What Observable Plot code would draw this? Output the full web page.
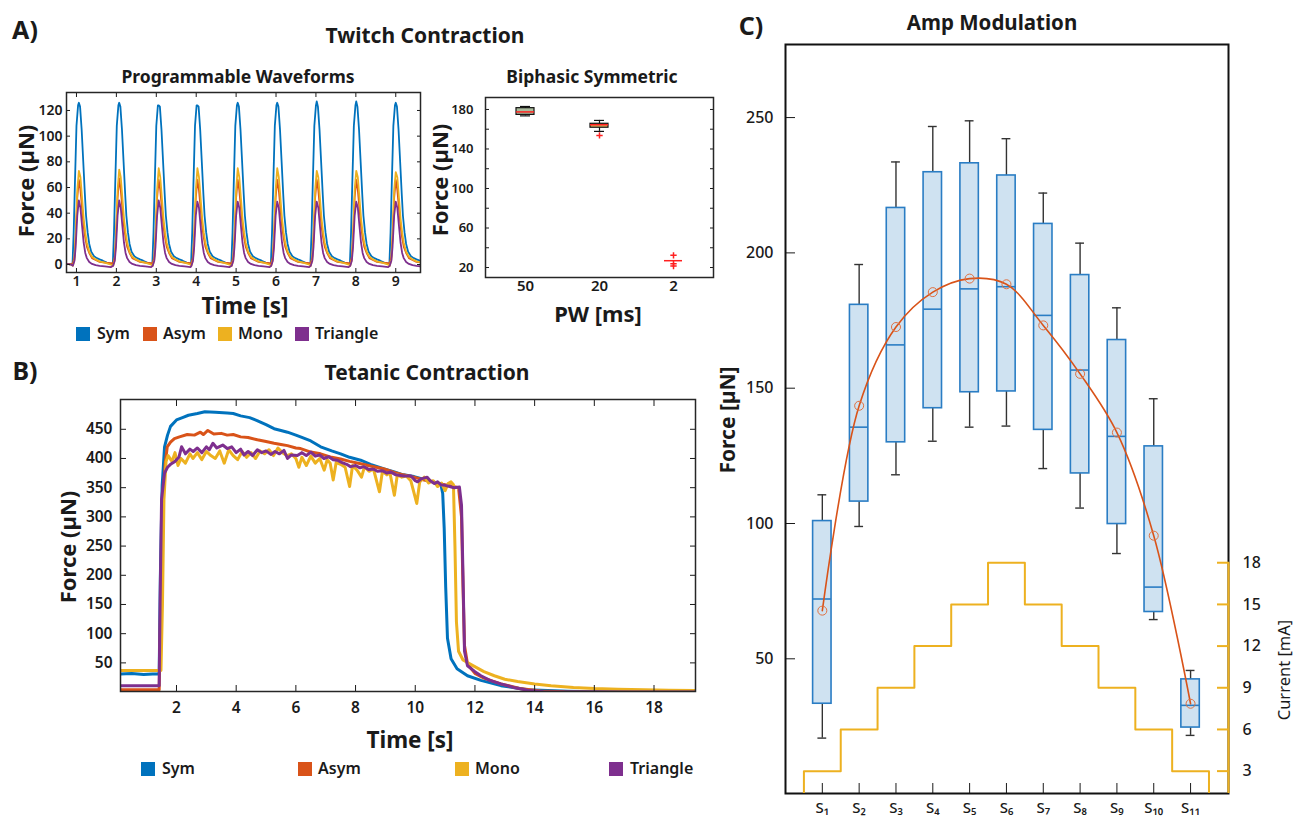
<!DOCTYPE html>
<html><head><meta charset="utf-8">
<script src="https://cdn.jsdelivr.net/npm/d3@7"></script>
<script src="https://cdn.jsdelivr.net/npm/@observablehq/plot@0.6"></script>
<style>
body{margin:0;background:#fff;font-family:"Noto Sans",sans-serif;color:#1a1a1a;}
#root{position:relative;width:1295px;height:821px;overflow:hidden;background:#fff;}
.abs{position:absolute;white-space:nowrap;line-height:1;}
.sq{position:absolute;width:14px;height:14px;}
</style></head><body><div id="root"></div>
<script>
// ================= DATA =================
const seriesNames = ["Sym", "Asym", "Mono", "Triangle"];
const seriesColors = ["#0072BD", "#D95319", "#EDB120", "#7E2F8E"];

// ---- Panel A (left): twitch contractions ----
const twitchXTicks = [1, 2, 3, 4, 5, 6, 7, 8, 9];
const twitchYTicks = [0, 20, 40, 60, 80, 100, 120];
const twitchPeakTimes = [1.06, 2.07, 3.06, 4.03, 5.04, 6.03, 7.02, 8.01, 9.0];
const symPeaks = [126, 126, 124, 124, 126, 126, 127, 127, 126];
const asymPeaks = [66, 67, 66, 66, 66, 66, 66, 66, 66];
const monoPeaks = [73, 74, 75, 75, 75, 75, 73, 73, 72];
const triPeaks = [50, 50, 50, 49, 49, 49, 49, 49, 49];
// one twitch: [seconds from peak, force]; null = that twitch's peak
const symProfile = [[-0.16,0],[-0.13,25],[-0.10,62],[-0.06,108],[-0.02,124],[0,null],[0.03,123],[0.07,105],[0.11,80],[0.15,55],[0.18,38],[0.22,25],[0.26,16],[0.31,10],[0.38,6.5],[0.45,5],[0.52,4],[0.6,3],[0.7,1.5],[0.8,0.5]];
const asymProfile = [[-0.15,1],[-0.11,6],[-0.08,22],[-0.04,52],[0,null],[0.04,58],[0.08,44],[0.12,30],[0.16,21],[0.2,14],[0.26,9],[0.33,5],[0.42,3.5],[0.52,2],[0.65,1.5],[0.8,1]];
const monoProfile = [[-0.15,-1],[-0.11,4],[-0.08,22],[-0.04,58],[0,null],[0.04,68],[0.08,52],[0.12,36],[0.16,25],[0.2,17],[0.26,10],[0.33,6],[0.42,4],[0.52,2.5],[0.65,1.5],[0.8,0]];
const triProfile = [[-0.15,-1],[-0.11,3],[-0.08,14],[-0.04,38],[0,null],[0.04,44],[0.08,30],[0.12,17],[0.16,9],[0.2,5],[0.26,2],[0.33,0.5],[0.42,-0.5],[0.52,-1],[0.65,-1.5],[0.8,-2]];
const twitchLead = [[0.75, 0.5], [0.85, 0.2]];

// ---- Panel A (right): biphasic symmetric box plot ----
const pwCats = ["50", "20", "2"];
const pwYTicks = [20, 40, 60, 80, 100, 120, 140, 160, 180];
const pwLow = [173.5, 157.8, 26.9];
const pwQ1 = [174.5, 161.5, 26.9];
const pwMed = [177.5, 164.5, 26.9];
const pwQ3 = [181.3, 165.5, 26.9];
const pwHigh = [183.0, 168.9, 26.9];
const pwOutCat = ["20", "2", "2", "2"];
const pwOutVal = [153.7, 32.3, 23.8, 21.5];

// ---- Panel B: tetanic contraction ----
const tetXTicks = [2, 4, 6, 8, 10, 12, 14, 16, 18];
const tetYTicks = [50, 100, 150, 200, 250, 300, 350, 400, 450];
const tetSym = [[0.12,31],[0.5,32],[0.9,30],[1.2,31],[1.42,31],[1.46,200],[1.52,354],[1.6,420],[1.7,440],[1.8,455],[2.0,466],[2.2,470],[2.4,474],[2.7,477],[2.95,480],[3.3,479],[3.7,478],[3.9,477],[4.15,473],[4.45,470],[4.7,465],[5.0,458],[5.27,451],[5.5,448],[5.72,445],[6.0,440],[6.2,436],[6.5,430],[6.83,420],[7.2,413],[7.5,408],[7.8,402],[8.17,397],[8.5,390],[8.96,382],[9.3,377],[9.6,372],[9.96,369],[10.3,364],[10.6,360],[10.86,355],[10.92,340],[10.97,280],[11.02,180],[11.08,92],[11.2,57],[11.4,40],[11.75,28],[12.2,20],[12.87,11],[13.77,4],[15.1,1.5],[16,0.5],[19.4,0]];
const tetAsym = [[0.12,4],[1.42,4],[1.47,150],[1.55,330],[1.62,390],[1.69,420],[1.8,428],[1.93,434],[2.1,437],[2.36,441],[2.6,440],[2.8,445],[2.9,441],[3.05,448],[3.25,442],[3.5,443],[3.7,440],[3.9,441],[4.15,437],[4.4,436],[4.71,432],[5.0,429],[5.27,426],[5.5,424],[5.72,422],[6.0,418],[6.16,417],[6.5,411],[6.83,408],[7.2,402],[7.5,399],[7.8,395],[8.17,391],[8.5,387],[8.96,382],[9.3,376],[9.6,372],[9.96,368],[10.3,363],[10.6,360],[10.9,356],[11.2,353],[11.45,350],[11.55,300],[11.6,180],[11.65,80],[11.75,48],[12.0,32],[12.3,24],[12.87,14],[13.5,6],[14.2,2],[15,0.5],[19.4,0]];
const tetMono = [[0.12,37],[1.48,37],[1.53,150],[1.58,330],[1.65,395],[1.72,405],[1.85,395],[1.95,410],[2.05,388],[2.15,400],[2.3,392],[2.45,408],[2.55,400],[2.7,410],[2.85,398],[3.0,412],[3.15,405],[3.3,400],[3.45,413],[3.6,392],[3.75,415],[3.9,405],[4.05,398],[4.2,412],[4.35,402],[4.5,410],[4.65,400],[4.8,413],[4.95,408],[5.1,415],[5.25,405],[5.4,418],[5.55,410],[5.7,405],[5.85,408],[6.0,400],[6.1,385],[6.2,402],[6.35,388],[6.5,404],[6.65,392],[6.8,400],[6.95,380],[7.05,398],[7.15,392],[7.25,363],[7.35,393],[7.5,390],[7.65,385],[7.8,352],[7.9,388],[8.05,380],[8.2,368],[8.3,386],[8.45,378],[8.6,382],[8.8,343],[8.9,378],[9.05,372],[9.15,376],[9.3,337],[9.4,372],[9.55,368],[9.7,370],[9.85,362],[10.05,323],[10.15,360],[10.3,368],[10.45,358],[10.6,362],[10.75,352],[10.88,358],[11.0,345],[11.1,357],[11.2,360],[11.28,355],[11.33,250],[11.38,120],[11.45,70],[11.6,55],[11.98,44],[12.3,35],[12.65,28],[13.0,22],[13.43,18],[14.0,14],[14.55,11],[15.3,8],[16.0,6],[16.8,5],[17.67,4],[18.5,3],[19.4,2.5]];
const tetTri = [[0.12,11],[1.42,11],[1.45,150],[1.5,330],[1.6,375],[1.7,385],[1.8,390],[1.95,395],[2.08,402],[2.17,420],[2.3,408],[2.45,416],[2.56,412],[2.7,418],[2.85,410],[3.0,420],[3.1,415],[3.22,426],[3.35,418],[3.55,423],[3.7,417],[3.85,420],[4.0,410],[4.15,416],[4.26,406],[4.4,412],[4.55,405],[4.71,415],[4.85,410],[5.0,413],[5.16,407],[5.3,412],[5.45,408],[5.6,414],[5.72,400],[5.85,406],[6.05,405],[6.2,410],[6.35,405],[6.5,411],[6.65,404],[6.8,406],[6.94,400],[7.1,403],[7.25,398],[7.39,397],[7.55,393],[7.7,390],[7.83,386],[8.0,388],[8.15,384],[8.28,386],[8.45,381],[8.6,382],[8.73,378],[8.9,379],[9.05,375],[9.17,377],[9.35,372],[9.6,370],[9.86,370],[10.0,362],[10.08,360],[10.2,365],[10.4,368],[10.5,362],[10.64,357],[10.75,360],[10.86,355],[11.0,354],[11.15,352],[11.3,350],[11.48,351],[11.55,320],[11.6,200],[11.65,70],[11.75,45],[12.0,35],[12.2,28],[12.5,20],[12.87,14],[13.3,8],[13.77,3],[14.3,0.5],[15,0],[19.4,0]];

// ---- Panel C: amplitude modulation ----
const stimLabels = ["S₁","S₂","S₃","S₄","S₅","S₆","S₇","S₈","S₉","S₁₀","S₁₁"];
const forceTicks = [50, 100, 150, 200, 250];
const currentTicks = [3, 6, 9, 12, 15, 18];
const stimCurrent = [3, 6, 9, 12, 15, 18, 15, 12, 9, 6, 3];
const whiskLow = [20.7, 98.9, 118.0, 130.4, 135.6, 136.0, 120.3, 105.7, 88.9, 64.5, 21.7];
const boxQ1 = [33.4, 108.1, 130.0, 142.6, 148.5, 148.8, 134.6, 118.5, 99.8, 67.3, 24.6];
const boxMed = [72.1, 135.6, 166.0, 179.2, 186.7, 187.5, 176.9, 156.7, 132.2, 76.5, 32.8];
const boxQ3 = [100.9, 180.8, 216.6, 229.8, 233.1, 228.6, 210.7, 191.8, 167.8, 128.5, 42.4];
const whiskHigh = [110.6, 195.7, 233.6, 246.7, 248.8, 242.2, 222.1, 203.6, 179.7, 146.1, 45.7];
const boxMean = [67.8, 143.5, 172.6, 185.5, 190.5, 188.4, 173.2, 155.3, 133.6, 95.5, 33.4];

// ================= BUILD =================
const root = document.getElementById("root");
const FONT = "'Noto Sans', sans-serif";

function txt(str, x, y, size, weight, rotate) {
  const d = document.createElement("div");
  d.className = "abs";
  d.textContent = str;
  d.style.left = x + "px";
  d.style.top = y + "px";
  d.style.fontSize = size + "px";
  d.style.fontWeight = weight;
  d.style.transform = "translate(-50%,-50%)" + (rotate ? ` rotate(${rotate}deg)` : "");
  root.appendChild(d);
}
function put(svg, left, top) {
  const w = document.createElement("div");
  w.style.position = "absolute";
  w.style.left = left + "px";
  w.style.top = top + "px";
  w.appendChild(svg);
  root.appendChild(w);
}
function legend(y, sqX, lbX, size) {
  seriesNames.forEach((s, k) => {
    const q = document.createElement("div");
    q.className = "sq";
    q.style.left = sqX[k] + "px";
    q.style.top = (y - 7) + "px";
    q.style.background = seriesColors[k];
    root.appendChild(q);
    const t = document.createElement("div");
    t.className = "abs";
    t.textContent = s;
    t.style.left = lbX[k] + "px";
    t.style.top = y + "px";
    t.style.transform = "translateY(-55%)";
    t.style.fontSize = size + "px";
    t.style.fontWeight = 600;
    root.appendChild(t);
  });
}
const blank = () => "";

// ---- A left ----
const twitchRows = [];
const profiles = [symProfile, asymProfile, monoProfile, triProfile];
const peaks = [symPeaks, asymPeaks, monoPeaks, triPeaks];
seriesNames.forEach((s, k) => {
  twitchLead.forEach(([t, v]) => twitchRows.push({s, t, v}));
  twitchPeakTimes.forEach((tp, i) => profiles[k].forEach(([dt, v]) =>
    twitchRows.push({s, t: tp + dt, v: v === null ? peaks[k][i] : v})));
});
put(Plot.plot({
  width: 430, height: 215, marginLeft: 66, marginRight: 10, marginTop: 7, marginBottom: 28,
  style: {fontFamily: FONT, fontSize: "14px", fontWeight: "600", color: "#1a1a1a", background: "transparent", overflow: "visible"},
  x: {domain: [0.75, 9.62]}, y: {domain: [-6.2, 134]},
  color: {domain: seriesNames, range: seriesColors},
  marks: [
    Plot.line(twitchRows, {x: "t", y: "v", z: "s", stroke: "s", strokeWidth: 1.8, clip: true}),
    Plot.axisX(twitchXTicks, {anchor: "bottom", tickSize: -4, tickPadding: 8, label: null}),
    Plot.axisX(twitchXTicks, {anchor: "top", tickSize: -4, tickFormat: blank, label: null}),
    Plot.axisY(twitchYTicks, {anchor: "left", tickSize: -4, tickPadding: 8, label: null}),
    Plot.axisY(twitchYTicks, {anchor: "right", tickSize: -4, tickFormat: blank, label: null}),
    Plot.frame({stroke: "#262626", strokeWidth: 1.5})
  ]
}), 0, 85);

// ---- A right ----
const pwRows = pwCats.map((c, k) => ({pw: c, lo: pwLow[k], q1: pwQ1[k], med: pwMed[k], q3: pwQ3[k], hi: pwHigh[k]}));
const pwOut = pwOutCat.map((c, k) => ({pw: c, v: pwOutVal[k]}));
const pwFill = {"50": "#a9bb9c", "20": "#e2b860", "2": "none"};
put(Plot.plot({
  width: 300, height: 215, marginLeft: 65, marginRight: 7, marginTop: 12, marginBottom: 23,
  style: {fontFamily: FONT, fontSize: "13px", fontWeight: "600", color: "#1a1a1a", background: "transparent", overflow: "visible"},
  x: {type: "band", domain: pwCats, paddingInner: 0.76, paddingOuter: 0.41},
  y: {domain: [9.9, 192.1]},
  color: {type: "identity"},
  marks: [
    Plot.ruleX(pwRows, {x: "pw", y1: "lo", y2: "hi", stroke: "#111", strokeWidth: 1.2}),
    Plot.tickY(pwRows.filter(d => d.hi > d.lo), {x: "pw", y: "hi", stroke: "#111", strokeWidth: 1.2, insetLeft: 4, insetRight: 4}),
    Plot.tickY(pwRows.filter(d => d.hi > d.lo), {x: "pw", y: "lo", stroke: "#111", strokeWidth: 1.2, insetLeft: 4, insetRight: 4}),
    Plot.barY(pwRows.filter(d => d.q3 > d.q1), {x: "pw", y1: "q1", y2: "q3", fill: d => pwFill[d.pw], stroke: "#111", strokeWidth: 1.2}),
    Plot.tickY(pwRows, {x: "pw", y: "med", stroke: "#ff2020", strokeWidth: 1.5}),
    Plot.dot(pwOut, {x: "pw", y: "v", symbol: "plus", r: 2.2, stroke: "#ff2020", strokeWidth: 1.5}),
    Plot.axisX({anchor: "bottom", tickSize: 0, tickPadding: 3, label: null, fontSize: 15}),
    Plot.axisY(pwYTicks, {anchor: "left", tickSize: -4, tickPadding: 16, label: null, tickFormat: d => (d - 20) % 40 === 0 ? d : ""}),
    Plot.axisY(pwYTicks, {anchor: "right", tickSize: -4, tickFormat: blank, label: null}),
    Plot.frame({stroke: "#262626", strokeWidth: 1.5})
  ]
}), 420, 85);

// ---- B ----
const tetRows = [];
[tetSym, tetAsym, tetMono, tetTri].forEach((arr, k) => arr.forEach(([t, v]) => tetRows.push({s: seriesNames[k], t, v})));
put(Plot.plot({
  width: 650, height: 335, marginLeft: 60, marginRight: 15, marginTop: 9, marginBottom: 34,
  style: {fontFamily: FONT, fontSize: "15.5px", fontWeight: "600", color: "#1a1a1a", background: "transparent", overflow: "visible"},
  x: {domain: [0.124, 19.39]}, y: {domain: [1, 501]},
  color: {domain: seriesNames, range: seriesColors},
  marks: [
    Plot.line(tetRows, {x: "t", y: "v", z: "s", stroke: "s", strokeWidth: 3, clip: true}),
    Plot.axisX(tetXTicks, {anchor: "bottom", tickSize: -6, tickPadding: 16, label: null}),
    Plot.axisX(tetXTicks, {anchor: "top", tickSize: -6, tickFormat: blank, label: null}),
    Plot.axisY(tetYTicks, {anchor: "left", tickSize: -6, tickPadding: 14, label: null}),
    Plot.axisY(tetYTicks, {anchor: "right", tickSize: -6, tickFormat: blank, label: null}),
    Plot.frame({stroke: "#262626", strokeWidth: 1.5})
  ]
}), 60, 390);

// ---- C ----
const boxRows = stimLabels.map((lab, k) => ({i: k + 1, lo: whiskLow[k], q1: boxQ1[k], med: boxMed[k], q3: boxQ3[k], hi: whiskHigh[k], mean: boxMean[k]}));
const stimIdx = stimLabels.map((_, k) => k + 1);
const cStyle = {fontFamily: FONT, fontSize: "16px", fontWeight: "500", color: "#1a1a1a", background: "transparent", overflow: "visible"};
const boxBlue = "#2a7dc4";
put(Plot.plot({
  width: 575, height: 791, marginLeft: 65, marginRight: 67, marginTop: 14, marginBottom: 28,
  style: cStyle,
  x: {domain: [0, 12.03]}, y: {domain: [0.23, 277]},
  marks: [
    Plot.ruleX(boxRows, {x: "i", y1: "lo", y2: "q1", stroke: "#333", strokeWidth: 1.4}),
    Plot.ruleX(boxRows, {x: "i", y1: "q3", y2: "hi", stroke: "#333", strokeWidth: 1.4}),
    Plot.ruleY(boxRows, {y: "lo", x1: d => d.i - 0.5, x2: d => d.i + 0.5, insetLeft: 14, insetRight: 14, stroke: "#333", strokeWidth: 1.4}),
    Plot.ruleY(boxRows, {y: "hi", x1: d => d.i - 0.5, x2: d => d.i + 0.5, insetLeft: 14, insetRight: 14, stroke: "#333", strokeWidth: 1.4}),
    Plot.rect(boxRows, {x1: d => d.i - 0.5, x2: d => d.i + 0.5, y1: "q1", y2: "q3", insetLeft: 9.2, insetRight: 9.2, fill: "#cfe2f1", stroke: boxBlue, strokeWidth: 1.6}),
    Plot.ruleY(boxRows, {y: "med", x1: d => d.i - 0.5, x2: d => d.i + 0.5, insetLeft: 9.2, insetRight: 9.2, stroke: boxBlue, strokeWidth: 1.6}),
    Plot.line(boxRows, {x: "i", y: "mean", curve: "catmull-rom", stroke: "#D95319", strokeWidth: 1.6}),
    Plot.dot(boxRows, {x: "i", y: "mean", r: 4.5, stroke: "#E07040", fill: "none", strokeWidth: 1}),
    Plot.axisY(forceTicks, {anchor: "left", tickSize: -10, tickPadding: 22, label: null}),
    Plot.axisX(stimIdx, {anchor: "bottom", tickSize: -10, tickPadding: 19, label: null, fontSize: 15, tickFormat: i => stimLabels[i - 1]}),
    Plot.frame({stroke: "#111", strokeWidth: 2})
  ]
}), 720, 30);

const stairRows = [{x: 0.5, c: 0}]
  .concat(stimCurrent.map((c, k) => ({x: k + 0.5, c})))
  .concat([{x: stimCurrent.length + 0.5, c: stimCurrent[stimCurrent.length - 1]}, {x: stimCurrent.length + 0.5, c: 0}]);
put(Plot.plot({
  width: 575, height: 791, marginLeft: 65, marginRight: 67, marginTop: 14, marginBottom: 28,
  style: cStyle,
  x: {domain: [0, 12.03], axis: null}, y: {domain: [1.39, 55.3]},
  marks: [
    Plot.line(stairRows, {x: "x", y: "c", curve: "step-after", stroke: "#EDB120", strokeWidth: 2, clip: true}),
    Plot.ruleX([12.03], {y1: 1.39, y2: 18, stroke: "#EDB120", strokeWidth: 2.2}),
    Plot.axisY(currentTicks, {anchor: "right", tickSize: -12, tickPadding: 26, stroke: "#EDB120", strokeWidth: 2, fill: "#1a1a1a", label: null})
  ]
}), 720, 30);

// ---- text ----
txt("A)", 25, 29, 25, "bold");
txt("Twitch Contraction", 425, 35, 21, "bold");
txt("Programmable Waveforms", 238, 77, 17.5, "bold");
txt("Biphasic Symmetric", 592, 77, 17.5, "bold");
txt("Force (µN)", 25, 181, 22, "bold", -90);
txt("Time [s]", 245, 306, 22.5, "bold");
txt("Force (µN)", 439, 180, 22, "bold", -90);
txt("PW [ms]", 598, 313, 22, "bold");
legend(334, [76, 143, 218, 295], [97, 163, 238, 315], 16);

txt("B)", 25, 370, 25, "bold");
txt("Tetanic Contraction", 427, 372, 21, "bold");
txt("Force (µN)", 67, 547, 22, "bold", -90);
txt("Time [s]", 410, 740, 22.5, "bold");
legend(769, [141, 298, 455, 609], [162, 318, 475, 630], 16);

txt("C)", 751, 25, 25, "bold");
txt("Amp Modulation", 992, 22, 20.5, "bold");
txt("Force [µN]", 727, 420, 21, "bold", -90);
txt("Current [mA]", 1284, 670, 16.5, "normal", -90);
</script></body></html>
